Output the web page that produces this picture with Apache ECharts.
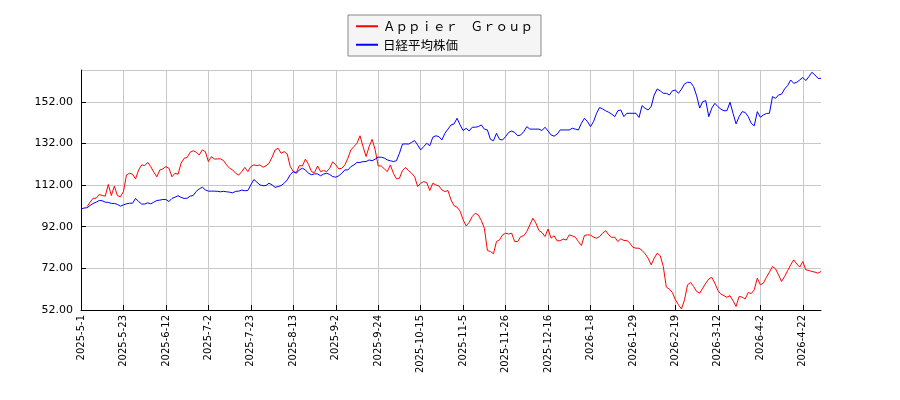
<!DOCTYPE html>
<html lang="ja">
<head>
    <meta charset="UTF-8">
    <title>Appier Group と 日経平均株価</title>
    <script src="https://cdn.jsdelivr.net/npm/echarts@6/dist/echarts.min.js"></script>
    <style>
        html, body {margin: 0; padding: 0; background: #ffffff;}
    </style>
</head>
<body>
<div id="chart" style="width:900px;height:400px;"></div>
<script>
    // 営業日（東証）: 2025-5-1 ～ 2026-5-1
    let startDay = '2025-05-01';
    let dayCount = 245;
    let holidays = [
        '2025-05-05', '2025-05-06', '2025-07-21', '2025-08-11', '2025-09-15', '2025-09-23',
        '2025-10-13', '2025-11-03', '2025-11-24', '2025-12-31', '2026-01-01', '2026-01-02',
        '2026-01-12', '2026-02-11', '2026-02-23', '2026-03-20', '2026-04-29'
    ];

    // 株価（開始日=100 の相対値）
    let appier = [
        null, null, 101.7, 103.8, 105.7, 105.7, 107.5, 107, 106.7, 112.3,
        107, 111.5, 107, 106.4, 108.9, 116.9, 117.7, 117.2, 115, 119.3,
        121.7, 121.4, 122.9, 120.9, 118.2, 116, 119.3, 119.8, 120.9, 120.1,
        116, 117.7, 117.2, 122.5, 124.9, 125.3, 127.8, 128.5, 127.8, 126.5,
        128.9, 128.1, 123.3, 125.7, 124.5, 124.6, 124.6, 123.8, 121.7, 120.1,
        119.3, 117.7, 116.8, 118.5, 120.5, 118.5, 120.9, 121.7, 121.4, 121.7,
        120.6, 121.3, 122.5, 125.4, 128.9, 129.7, 127.3, 128.1, 127, 120.9,
        118.5, 118, 121.4, 121.2, 124.5, 122, 118.5, 118, 121.2, 118.5,
        119, 118.5, 120.1, 123.2, 121.7, 119.8, 120.1, 121.7, 124.9, 128.9,
        130.5, 132.1, 135.7, 130.5, 125.7, 130.5, 134, 128.9, 121.2, 121.2,
        119.8, 118.5, 121.7, 117.7, 115, 115.3, 119, 120.5, 119, 117.7,
        116.1, 111.3, 112.9, 113.7, 113.2, 109.4, 112.9, 112.1, 111.6, 109.7,
        108.9, 109.4, 104.9, 102.1, 101.4, 99.5, 95.3, 92.4, 94.1, 96.9,
        98.5, 97.7, 95, 91.3, 80.6, 80.1, 79, 84.9, 85.7, 88.1,
        88.9, 88.5, 88.9, 84.9, 84.9, 87.3, 87.7, 89.7, 92.9, 96.1,
        93.7, 90.2, 89.2, 87.3, 90.9, 86.5, 87.7, 85.2, 85.3, 86.1,
        85.6, 88.1, 87.6, 87, 84.9, 83, 87.8, 88.1, 88, 87,
        86.5, 87.3, 88.9, 90.1, 88.1, 86.9, 87, 84.9, 86.2, 85.4,
        85.4, 84.1, 82.1, 81.7, 81.7, 80.6, 79, 76.9, 73.7, 76.9,
        79.3, 78.1, 72.9, 63, 62, 60.4, 56.9, 54.5, 52.5, 56.9,
        64.1, 65.2, 63.3, 60.9, 60.1, 62.5, 64.9, 66.9, 67.7, 64.9,
        61.4, 59.6, 58.9, 58.1, 58.9, 56.4, 53.7, 58.5, 58.2, 57.3,
        60.4, 59.9, 61.7, 67.3, 64.1, 64.9, 67.7, 70.2, 72.9, 71.8,
        68.9, 65.7, 68.1, 70.9, 73.7, 76.1, 74.1, 72.6, 75.3, 71.3,
        71, 70.5, 70.2, 69.7, 70.5
    ];
    let nikkei = [
        100.5, 101, 101.1, 102.2, 103.2, 103.8, 104.6, 104.5, 103.8, 103.7,
        103.2, 103.2, 102.7, 101.9, 102.5, 103, 103.3, 103.3, 105.6, 104.1,
        102.9, 102.9, 103.5, 103, 103.8, 104.6, 104.8, 105.1, 105.1, 104.1,
        105.6, 106.2, 106.9, 106.1, 105.6, 105.7, 106.7, 107, 109, 110.2,
        111, 109.7, 109.1, 109.1, 109.1, 109, 108.8, 109, 108.8, 108.6,
        108.3, 109, 109.1, 109.6, 109.3, 109.4, 112.1, 114.7, 113.4, 112.1,
        111.7, 111.8, 112.9, 112.1, 110.9, 111.3, 111.8, 112.9, 114.5, 117,
        118.5, 117.7, 119.3, 120.1, 119.3, 117.7, 117, 117.4, 117.4, 116.5,
        117.3, 117.7, 117.1, 116.1, 115.8, 116.5, 117.7, 119.3, 119.3, 120.9,
        121.7, 122.9, 122.9, 123.3, 123.3, 124.1, 123.7, 124.5, 125.4, 125.4,
        125, 124.1, 123.7, 123.3, 123.7, 127.3, 131.7, 131.8, 131.7, 132.5,
        133.4, 131.3, 128.9, 130.5, 132.1, 130.9, 135, 135.7, 135.3, 133.7,
        136.9, 138.9, 140.9, 141.4, 144.1, 140.9, 138.2, 139.3, 138, 139.8,
        139.8, 140.1, 140.9, 138.9, 138.5, 134, 133.3, 136.9, 134, 133.7,
        135.3, 137.3, 138, 137.3, 135.7, 136.1, 137.7, 140.1, 138.9, 138.9,
        138.9, 138.9, 138.2, 139.8, 138, 136.1, 135.5, 136.5, 138.5, 138.5,
        138.5, 138.5, 139.3, 138.9, 138.5, 141.7, 144.1, 142.5, 140.1, 142.5,
        146.5, 149.3, 148.6, 147.7, 147, 146.1, 144.9, 147.7, 148.1, 144.9,
        146.5, 146.5, 146.5, 146.5, 144.5, 150.2, 148.9, 148.1, 149.7, 155.3,
        158.2, 157.3, 156.1, 156.1, 155.3, 157.3, 157.7, 156.1, 158.1, 160.6,
        161.4, 161.3, 159.3, 154.9, 149, 152.1, 152.6, 144.9, 149, 151.3,
        149.7, 148.5, 147.7, 147.8, 151.8, 146.5, 141.4, 144.9, 147.3, 146.9,
        144.9, 141.7, 140.5, 147.3, 144.6, 145.7, 146.4, 146.5, 154.5, 153.7,
        155.3, 155.7, 158.2, 159.8, 162.5, 160.9, 161.4, 162.5, 163.7, 162.2,
        164.1, 166.2, 164.9, 163.3, 163.3
    ];

    // 日付ラベル
    let dates = [];
    let d = new Date(startDay + 'T00:00:00');
    while (dates.length < dayCount) {
        let ymd = d.getFullYear() + '-' + String(d.getMonth() + 1).padStart(2, '0') + '-' + String(d.getDate()).padStart(2, '0');
        let wd = d.getDay();
        if (wd !== 0 && wd !== 6 && holidays.indexOf(ymd) < 0) {
            dates.push(d.getFullYear() + '-' + (d.getMonth() + 1) + '-' + d.getDate());
        }
        d.setDate(d.getDate() + 1);
    }

    let chart = echarts.init(document.getElementById('chart'));
    let option = {
        backgroundColor: '#ffffff',
        animation: false,
        legend: {
            orient: 'vertical',
            left: 348,
            top: 15,
            padding: [5, 8, 5, 8],
            itemGap: 6,
            itemWidth: 22,
            itemHeight: 2,
            icon: 'rect',
            backgroundColor: '#f5f5f5',
            borderColor: '#888888',
            borderWidth: 1,
            borderRadius: 0,
            textStyle: {fontFamily: 'Noto Sans CJK JP', fontSize: 12.5, color: '#000000'},
            data: ['Ａｐｐｉｅｒ　Ｇｒｏｕｐ', '日経平均株価']
        },
        grid: {left: 81, right: 79, top: 70, bottom: 90},
        xAxis: {
            type: 'category',
            data: dates,
            boundaryGap: false,
            axisLine: {lineStyle: {color: '#000000', width: 1}},
            axisTick: {inside: true, length: 5, interval: 13, lineStyle: {color: '#000000'}},
            axisLabel: {
                interval: 13,
                rotate: 90,
                fontFamily: 'DejaVu Sans',
                fontSize: 10,
                color: '#000000',
                margin: 5
            },
            splitLine: {show: true, interval: 13, lineStyle: {color: '#c8c8c8', width: 1}}
        },
        yAxis: {
            type: 'value',
            min: 52,
            max: 167.3,
            interval: 20,
            axisLine: {show: true, lineStyle: {color: '#000000', width: 1}},
            axisTick: {show: true, inside: true, length: 5, lineStyle: {color: '#000000'}},
            axisLabel: {
                showMaxLabel: false,
                fontFamily: 'DejaVu Sans',
                fontSize: 11,
                color: '#000000',
                margin: 8,
                formatter: function (v) { return v.toFixed(2); }
            },
            splitLine: {show: true, lineStyle: {color: '#c8c8c8', width: 1}}
        },
        series: [
            {
                name: 'Ａｐｐｉｅｒ　Ｇｒｏｕｐ',
                type: 'line',
                data: appier,
                showSymbol: false,
                lineStyle: {color: '#ff0000', width: 1},
                itemStyle: {color: '#ff0000'}
            },
            {
                name: '日経平均株価',
                type: 'line',
                data: nikkei,
                showSymbol: false,
                lineStyle: {color: '#0000ff', width: 1},
                itemStyle: {color: '#0000ff'}
            }
        ]
    };
    chart.setOption(option);
</script>
</body>
</html>
